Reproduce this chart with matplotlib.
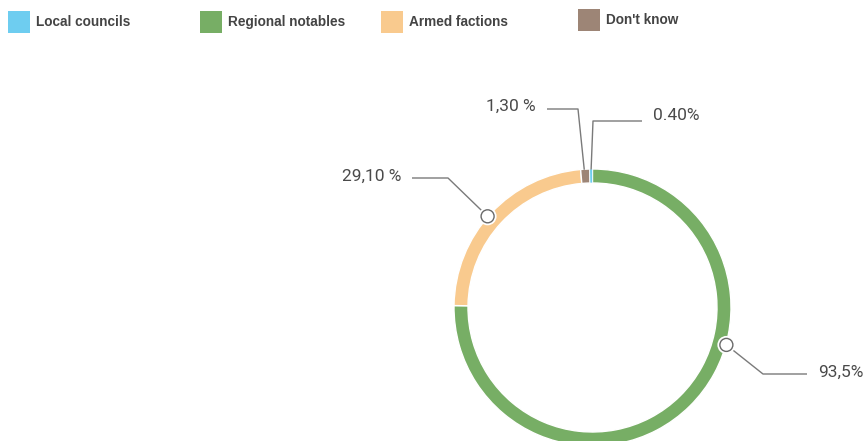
import numpy as np
import matplotlib.pyplot as plt
from matplotlib.patches import Rectangle, Circle

categories = ["Local councils", "Regional notables", "Armed factions", "Don't know"]
values = [0.40, 93.5, 29.10, 1.30]
value_labels = ["0.40%", "93,5%", "29,10 %", "1,30 %"]
colors = ["#6ecdf0", "#77ae65", "#f9ca8e", "#9d8576"]

W, H = 864, 441

# legend layout (pixels from the top-left corner)
legend_x = [8, 200, 381, 578]
legend_y = [22, 22, 22, 20]

# donut geometry in pixels
cx, cy = 592.5, 307.5
r_out, ring = 138.5, 14

# connector layout: position along the wedge (clockwise), elbow, line end, text anchor
anchor_frac = [0.5, 0.39, 0.477, 0.4]
circle_mark = [False, True, True, False]
elbows = [(593, 121), (763, 374), (448, 178), (578, 109)]
line_ends = [(642, 121), (807, 374), (412, 178), (547, 109)]
text_pos = [(653, 116, "left"), (818, 372, "left"), (401, 176, "right"), (536, 106, "right")]

fig = plt.figure(figsize=(W / 100, H / 100), dpi=100)
ax = fig.add_axes([0, 0, 1, 1])

def fy(y):
    return H - y

# first wedge ends exactly at 12 o'clock, the rest run clockwise from there
start = 90 + 360 * values[0] / sum(values)
wedges, _ = ax.pie(values, colors=colors, startangle=start, counterclock=False,
                   center=(cx, fy(cy)), radius=r_out,
                   wedgeprops=dict(width=ring, edgecolor="white", linewidth=1.0))
# keep the thin sliver visible above its neighbours' white borders
wedges[0].set_zorder(2)
wedges[0].set_linewidth(0.5)

ax.set_xlim(0, W)
ax.set_ylim(0, H)
ax.set_aspect("equal")
ax.axis("off")

line_col = "#7a7a7a"
for w, frac, mark, (ex, ey), (lx, ly), (tx, ty, ha), lab in zip(
        wedges, anchor_frac, circle_mark, elbows, line_ends, text_pos, value_labels):
    ang = np.deg2rad(w.theta2 - (w.theta2 - w.theta1) * frac)
    r = r_out + 0.5 if mark else r_out - 0.5
    ax0, ay0 = cx + r * np.cos(ang), fy(cy) + r * np.sin(ang)
    ax.plot([ax0, ex, lx], [ay0, fy(ey), fy(ly)], color=line_col, lw=1.0,
            solid_capstyle="butt", zorder=3)
    if mark:
        ax.add_patch(Circle((ax0, ay0), 9, facecolor="white", edgecolor="none", zorder=4))
        ax.add_patch(Circle((ax0, ay0), 6.5, facecolor="white", edgecolor="#6a6a6a",
                            lw=1.0, zorder=5))
    ax.text(tx, fy(ty), lab, ha=ha, va="center", fontsize=12.5,
            family="Roboto", color="#4a4a4a")

for x, y, c, name in zip(legend_x, legend_y, colors, categories):
    ax.add_patch(Rectangle((x, fy(y) - 11), 22, 22, facecolor=c, edgecolor="none"))
    ax.text(x + 28, fy(y), name, ha="left", va="center", fontsize=9.8,
            family="Liberation Sans", fontweight="bold", color="#444444")

fig.savefig("out.png", dpi=100)
